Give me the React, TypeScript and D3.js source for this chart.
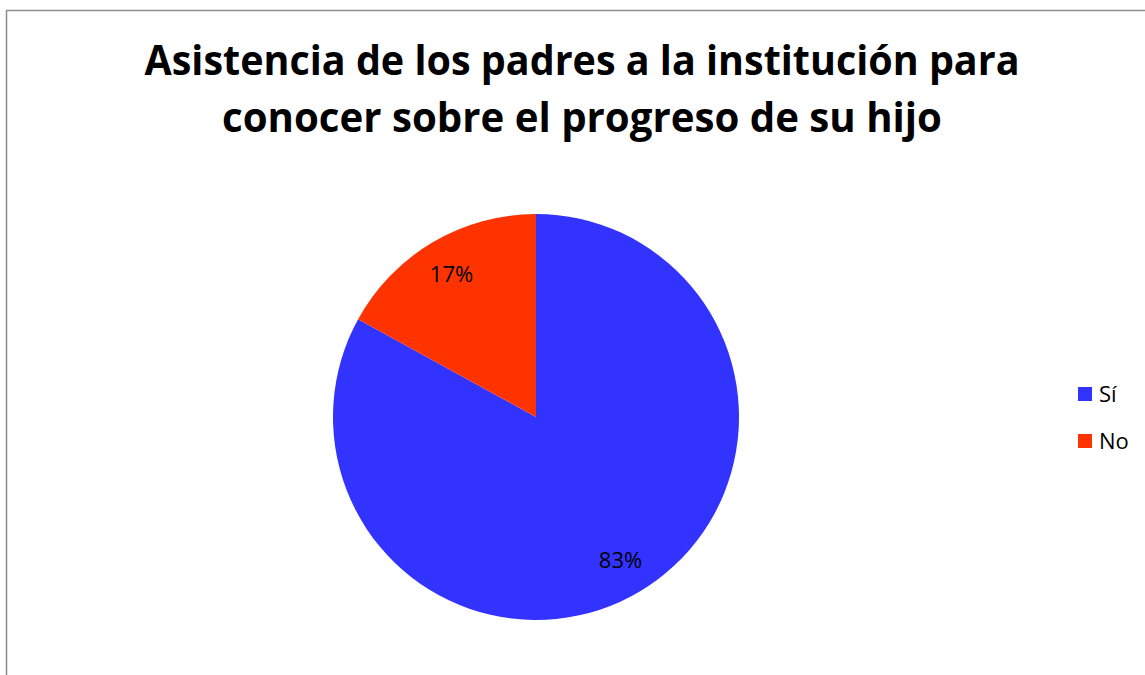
import React, { useEffect, useRef } from 'react';
import * as d3 from 'd3';

// chart data
const categories = ['Sí', 'No'];
const values = [83, 17];
const colors = ['#3333FF', '#FF3300'];
const titleLines = [
  'Asistencia de los padres a la institución para',
  'conocer sobre el progreso de su hijo',
];

const W = 1145;
const H = 675;

export default function App() {
  const ref = useRef<SVGSVGElement>(null);

  useEffect(() => {
    const svg = d3.select(ref.current);
    svg.selectAll('*').remove();

    // outer border (chart area is cut off on right/bottom)
    svg.append('rect')
      .attr('x', 6.5)
      .attr('y', 10.5)
      .attr('width', W + 20)
      .attr('height', H + 20)
      .attr('fill', 'white')
      .attr('stroke', '#8c8c8c')
      .attr('stroke-width', 1.5);

    // title
    const titleWidths = [875, 720];
    svg.selectAll('.title')
      .data(titleLines)
      .join('text')
      .attr('class', 'title')
      .attr('x', 582)
      .attr('y', (d, i) => 75 + i * 57)
      .attr('text-anchor', 'middle')
      .attr('textLength', (d, i) => titleWidths[i])
      .attr('lengthAdjust', 'spacingAndGlyphs')
      .style('font-family', '"Open Sans", sans-serif')
      .style('font-weight', 'bold')
      .style('font-size', '41px')
      .attr('fill', '#000')
      .text(d => d);

    const cx = 536, cy = 417, R = 203;
    const data = categories.map((c, i) => ({ name: c, value: values[i] }));
    const pie = d3.pie<any>().sort(null).value(d => d.value);
    const arc = d3.arc<any>().innerRadius(0).outerRadius(R);
    const labelArc = d3.arc<any>().innerRadius(166).outerRadius(166);

    const g = svg.append('g').attr('transform', `translate(${cx},${cy})`);
    const arcs = pie(data);

    g.selectAll('path')
      .data(arcs)
      .join('path')
      .attr('d', arc)
      .attr('fill', (d, i) => colors[i]);

    g.selectAll('.lbl')
      .data(arcs)
      .join('text')
      .attr('class', 'lbl')
      .attr('transform', d => `translate(${labelArc.centroid(d)})`)
      .attr('text-anchor', 'middle')
      .attr('dy', '0.35em')
      .style('font-family', '"Open Sans", sans-serif')
      .style('font-size', '22px')
      .attr('fill', '#000')
      .text(d => d.data.value + '%');

    // legend
    const legend = svg.append('g').attr('transform', 'translate(1078,387)');
    const items = legend.selectAll('g')
      .data(categories)
      .join('g')
      .attr('transform', (d, i) => `translate(0,${i * 47})`);
    items.append('rect')
      .attr('width', 14)
      .attr('height', 14)
      .attr('fill', (d, i) => colors[i]);
    items.append('text')
      .attr('x', 21)
      .attr('y', 7)
      .attr('dy', '0.35em')
      .style('font-family', '"Open Sans", sans-serif')
      .style('font-size', '22px')
      .attr('fill', '#000')
      .text(d => d);
  }, []);

  return (
    <div style={{ position: 'absolute', left: 0, top: 0 }}>
      <svg ref={ref} width={W} height={H} style={{ display: 'block' }} />
    </div>
  );
}
